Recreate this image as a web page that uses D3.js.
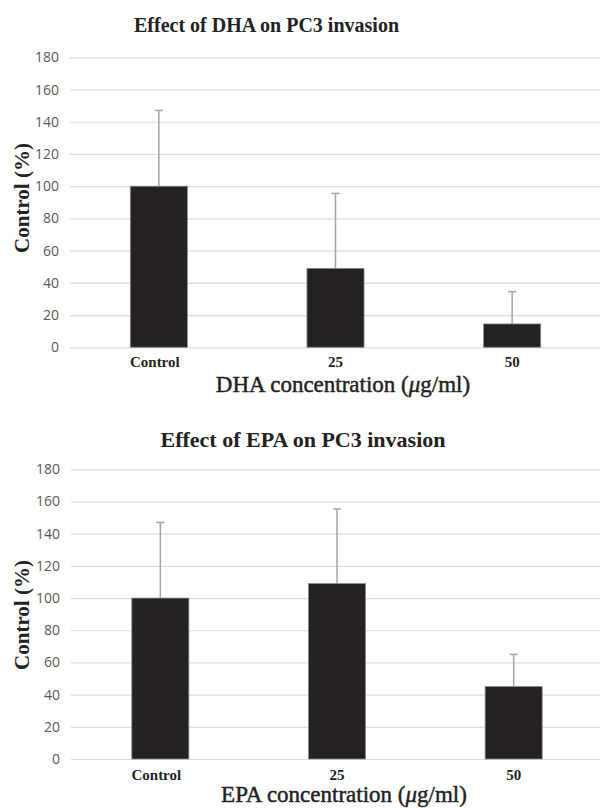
<!DOCTYPE html>
<html>
<head>
<meta charset="utf-8">
<script src="https://cdn.jsdelivr.net/npm/d3@7"></script>
<style>
  body { margin: 0; background: #fff; }
  svg { display: block; }
  .tick text { font-family: "Open Sans", sans-serif; fill: #595959; }
</style>
</head>
<body>
<div id="chart"></div>
<script>
var categories = ["Control", "25", "50"];
var dhaValues = [100, 49, 14.5];
var dhaErrors = [47, 46.5, 20];
var epaValues = [100, 109, 45];
var epaErrors = [47, 46.3, 20];
var yTicks = [0, 20, 40, 60, 80, 100, 120, 140, 160, 180];

var svg = d3.select("#chart").append("svg")
    .attr("width", 600)
    .attr("height", 808);

function drawPanel(opts) {
    var g = svg.append("g");
    var y = d3.scaleLinear().domain([0, 180]).range([opts.y0, opts.y1]);
    var x = d3.scaleBand().domain(categories)
        .range([opts.x0, opts.x0 + 530])
        .paddingInner(0.677).paddingOuter(0.3385);

    // gridlines + tick labels
    var yAxis = d3.axisLeft(y).tickValues(yTicks)
        .tickSize(-(600 - opts.gx)).tickPadding(11);
    var ax = g.append("g")
        .attr("transform", "translate(" + opts.gx + ",0)")
        .call(yAxis);
    ax.select(".domain").remove();
    ax.selectAll(".tick line").attr("stroke", "#dcdcdc").attr("stroke-width", 1.2);
    ax.selectAll(".tick text").attr("font-size", 14);

    var data = categories.map(function(c, i) {
        return {cat: c, v: opts.values[i], e: opts.errors[i]};
    });

    // error bars, plus direction only
    g.selectAll(".err").data(data).enter().append("line")
        .attr("x1", d => x(d.cat) + x.bandwidth() / 2)
        .attr("x2", d => x(d.cat) + x.bandwidth() / 2)
        .attr("y1", d => y(d.v))
        .attr("y2", d => y(d.v + d.e))
        .attr("stroke", "#a3a3a3").attr("stroke-width", 1.5);
    g.selectAll(".cap").data(data).enter().append("line")
        .attr("x1", d => x(d.cat) + x.bandwidth() / 2 - 4)
        .attr("x2", d => x(d.cat) + x.bandwidth() / 2 + 4)
        .attr("y1", d => y(d.v + d.e))
        .attr("y2", d => y(d.v + d.e))
        .attr("stroke", "#a3a3a3").attr("stroke-width", 1.5);

    g.selectAll(".bar").data(data).enter().append("rect")
        .attr("x", d => x(d.cat))
        .attr("y", d => y(d.v))
        .attr("width", x.bandwidth())
        .attr("height", d => y(0) - y(d.v))
        .attr("fill", "#252122")
        .attr("stroke", "#8a8a8a").attr("stroke-width", 0.8);

    // category labels
    g.selectAll(".cat").data(categories).enter().append("text")
        .attr("x", d => x(d) + x.bandwidth() / 2 - (d === "Control" ? 4 : 0))
        .attr("y", opts.catY)
        .attr("text-anchor", "middle")
        .attr("font-family", "Liberation Serif, Times New Roman, serif")
        .attr("font-weight", "bold")
        .attr("font-size", 15)
        .attr("fill", "#222")
        .text(d => d);

    g.append("text")
        .attr("x", opts.titleX).attr("y", opts.titleY)
        .attr("text-anchor", "middle")
        .attr("font-family", "Liberation Serif, Times New Roman, serif")
        .attr("font-weight", "bold")
        .attr("font-size", opts.titleSize)
        .attr("fill", "#222")
        .text(opts.title);

    g.append("text")
        .attr("transform", "translate(" + 29 + "," + opts.yTitleY + ") rotate(-90)")
        .attr("text-anchor", "middle")
        .attr("font-family", "Liberation Serif, Times New Roman, serif")
        .attr("font-weight", "bold")
        .attr("font-size", 21)
        .attr("fill", "#222")
        .text("Control (%)");

    var xt = g.append("text")
        .attr("x", opts.xTitleX).attr("y", opts.xTitleY)
        .attr("text-anchor", "middle")
        .attr("font-family", "Liberation Serif, Times New Roman, serif")
        .attr("font-size", 23)
        .attr("fill", "#222")
        .attr("stroke", "#222").attr("stroke-width", 0.45);
    xt.append("tspan").text(opts.xTitle + " concentration (");
    xt.append("tspan").attr("font-style", "italic").text("\u03bc");
    xt.append("tspan").text("g/ml)");
}

drawPanel({
    y0: 347.3, y1: 57.3, x0: 70.5, gx: 70,
    values: dhaValues, errors: dhaErrors,
    catY: 367, title: "Effect of DHA on PC3 invasion",
    titleX: 266.5, titleY: 32, titleSize: 20,
    yTitleY: 198, xTitle: "DHA", xTitleX: 343, xTitleY: 392
});
drawPanel({
    y0: 759, y1: 469.3, x0: 72, gx: 71,
    values: epaValues, errors: epaErrors,
    catY: 780, title: "Effect of EPA on PC3 invasion",
    titleX: 303, titleY: 447, titleSize: 22,
    yTitleY: 615, xTitle: "EPA", xTitleX: 344, xTitleY: 802
});
</script>
</body>
</html>
